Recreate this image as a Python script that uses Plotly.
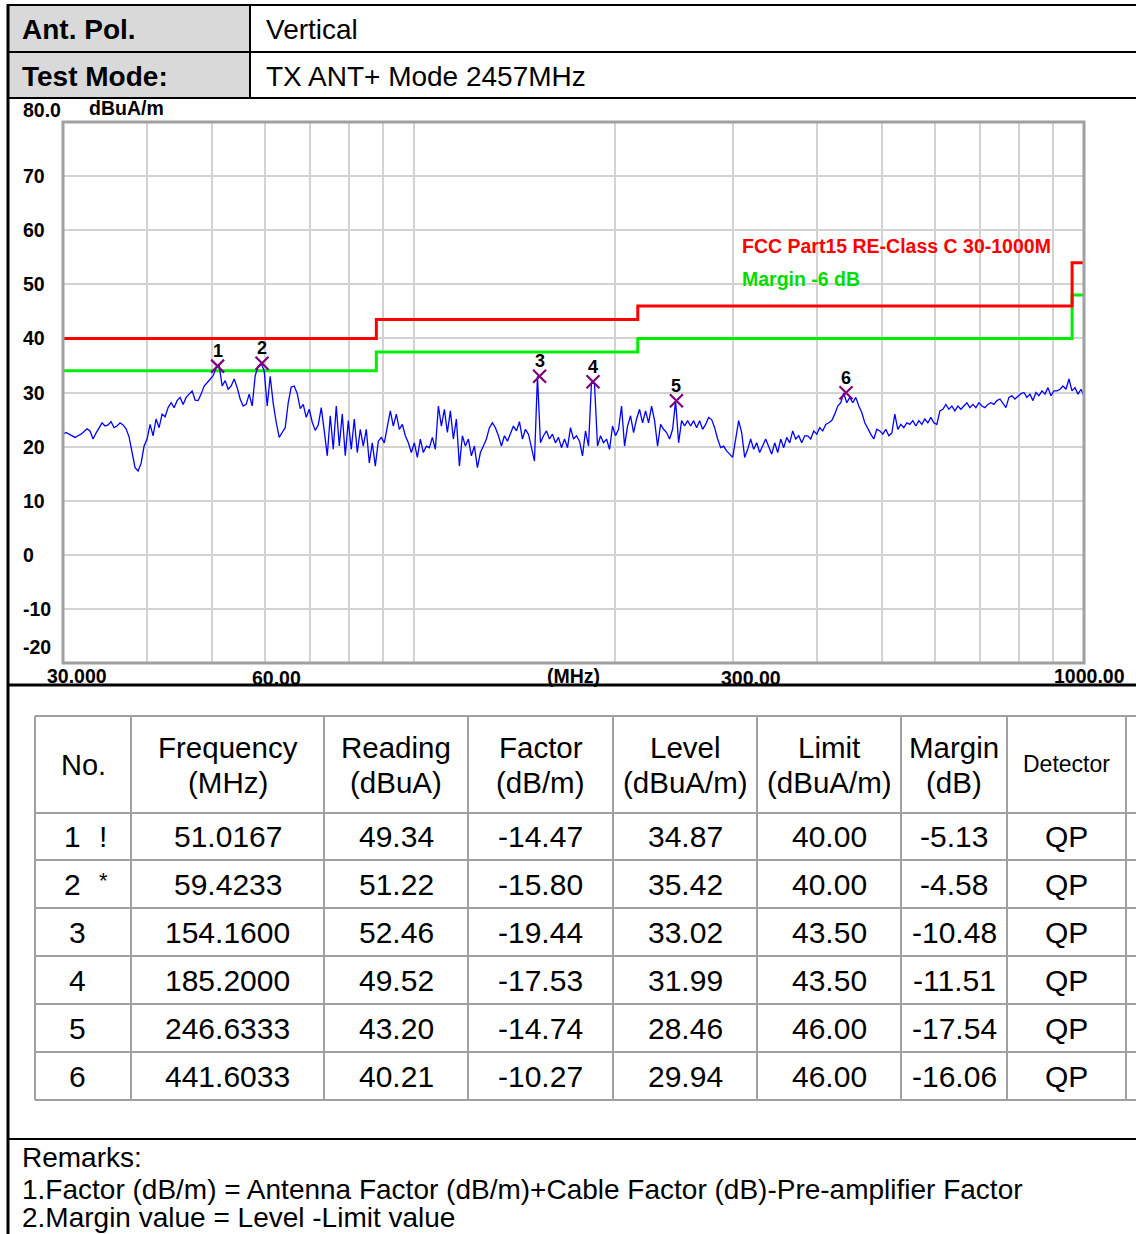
import numpy as np
import plotly.graph_objects as go

W, H = 1136, 1234

# ---------------- data ----------------
SWEEP_START, SWEEP_STOP, SWEEP_POINTS = 30.0, 1000.0, 341
LEVEL = [
    22.3, 22.6, 22.3, 22.0, 21.7, 22.0, 22.3, 22.8, 23.3, 22.9,
    21.4, 22.5, 23.5, 24.4, 23.8, 24.0, 24.6, 23.5, 23.8, 24.4,
    24.0, 23.3, 21.8, 18.9, 16.1, 15.5, 16.9, 20.1, 21.4, 24.1,
    22.0, 25.1, 23.5, 26.0, 25.5, 27.2, 28.1, 27.2, 28.5, 29.1,
    27.8, 29.1, 29.8, 30.3, 28.6, 28.5, 29.7, 31.2, 31.8, 32.5,
    33.1, 34.6, 35.0, 31.2, 32.2, 30.6, 31.2, 32.5, 30.9, 28.8,
    27.5, 27.8, 29.7, 27.5, 33.1, 34.9, 35.4, 34.0, 27.5, 33.0,
    28.0, 24.5, 21.7, 22.6, 23.5, 28.1, 31.0, 31.2, 29.8, 27.0,
    27.8, 25.4, 26.9, 24.5, 23.0, 24.0, 27.2, 22.9, 18.3, 25.7,
    19.5, 27.5, 20.1, 26.0, 18.3, 24.8, 19.5, 25.1, 18.9, 23.2,
    20.1, 23.2, 17.0, 20.7, 16.4, 21.0, 21.7, 20.7, 23.5, 26.6,
    23.8, 26.0, 23.2, 24.1, 22.0, 20.7, 18.9, 20.7, 18.0, 21.4,
    18.9, 20.1, 19.8, 21.7, 19.5, 27.5, 23.8, 26.9, 22.6, 26.6,
    21.4, 25.1, 16.4, 22.0, 20.1, 21.4, 18.3, 20.1, 16.1, 18.9,
    20.1, 21.4, 23.5, 24.4, 23.5, 22.0, 20.1, 22.0, 21.0, 22.6,
    23.8, 22.9, 24.6, 21.4, 23.2, 22.3, 19.5, 17.3, 33.0, 20.7,
    22.0, 22.9, 21.4, 22.3, 20.7, 21.7, 19.8, 21.4, 19.8, 23.5,
    21.4, 22.0, 21.0, 18.3, 22.9, 20.1, 32.0, 31.5, 20.1, 22.0,
    20.7, 21.4, 19.5, 23.8, 22.0, 23.2, 27.5, 20.1, 23.8, 25.7,
    22.6, 25.1, 26.9, 24.4, 26.6, 24.4, 27.5, 24.8, 20.1, 24.1,
    23.2, 22.6, 21.4, 23.2, 28.5, 20.7, 24.8, 23.8, 24.8, 23.8,
    24.8, 23.5, 24.8, 23.2, 24.1, 25.4, 25.0, 23.5, 21.4, 19.8,
    20.1, 19.2, 18.6, 18.0, 21.4, 24.8, 22.6, 18.0, 19.5, 21.4,
    19.5, 20.7, 18.9, 20.1, 21.4, 20.0, 18.6, 20.7, 18.9, 21.4,
    19.8, 21.7, 20.7, 22.9, 21.4, 22.0, 20.7, 22.0, 22.0, 21.4,
    22.9, 22.3, 23.5, 22.9, 24.1, 24.4, 24.8, 26.0, 27.5, 28.1,
    29.9, 28.1, 29.1, 28.1, 29.1, 27.5, 26.3, 24.4, 23.2, 22.3,
    21.4, 23.2, 22.9, 22.3, 23.2, 22.0, 22.5, 26.0, 23.2, 24.1,
    23.5, 24.4, 24.1, 24.8, 23.8, 24.8, 24.1, 25.1, 24.4, 25.4,
    24.4, 24.1, 26.6, 26.9, 27.8, 26.9, 27.5, 26.6, 27.5, 26.9,
    27.5, 28.1, 27.2, 27.8, 27.2, 28.1, 27.5, 27.2, 27.8, 28.1,
    27.8, 28.5, 28.8, 28.1, 27.2, 29.1, 29.4, 28.8, 29.4, 29.8,
    30.0, 29.1, 29.7, 28.5, 30.0, 29.4, 30.3, 29.7, 30.9, 29.4,
    30.3, 30.3, 30.6, 31.2, 30.6, 32.5, 30.3, 30.9, 29.7, 30.6,
    29.4,
]
FREQ = np.geomspace(SWEEP_START, SWEEP_STOP, SWEEP_POINTS)

LIMIT_FREQ = [30, 88, 216, 960, 1000]
LIMIT_LEVEL = [40, 43.5, 46, 54, 54]
MARGIN_LEVEL = [34, 37.5, 40, 48, 48]

NO = ["1", "2", "3", "4", "5", "6"]
FLAG = ["!", "*", "", "", "", ""]
FREQ_TBL = ["51.0167", "59.4233", "154.1600", "185.2000", "246.6333", "441.6033"]
READING = ["49.34", "51.22", "52.46", "49.52", "43.20", "40.21"]
FACTOR = ["-14.47", "-15.80", "-19.44", "-17.53", "-14.74", "-10.27"]
LEVEL_TBL = ["34.87", "35.42", "33.02", "31.99", "28.46", "29.94"]
LIMIT_TBL = ["40.00", "40.00", "43.50", "43.50", "46.00", "46.00"]
MARGIN_TBL = ["-5.13", "-4.58", "-10.48", "-11.51", "-17.54", "-16.06"]
DETECTOR = ["QP", "QP", "QP", "QP", "QP", "QP"]

Y_TICKS = [80, 70, 60, 50, 40, 30, 20, 10, 0, -10, -20]
Y_TICK_TEXT = ["80.0", "70", "60", "50", "40", "30", "20", "10", "0", "-10", "-20"]
X_GRID = [40, 50, 60, 70, 80, 90, 100, 200, 300, 400, 500, 600, 700, 800, 900]
X_TICK_VALS = [30, 60, 300, 1000]
X_TICK_TEXT = ["30.000", "60.00", "300.00", "1000.00"]

# ---------------- helpers ----------------
ARIAL = "Liberation Sans, Arial, sans-serif"


def px(x):
    return x / W


def py(y):
    return 1 - y / H


shapes = []
annotations = []


def hline(y, x0, x1, color="black", width=2):
    shapes.append(dict(type="line", xref="paper", yref="paper", x0=px(x0), x1=px(x1),
                       y0=py(y), y1=py(y), line=dict(color=color, width=width)))


def vline(x, y0, y1, color="black", width=2):
    shapes.append(dict(type="line", xref="paper", yref="paper", x0=px(x), x1=px(x),
                       y0=py(y0), y1=py(y1), line=dict(color=color, width=width)))


def text(t, x, y, size, bold=False, xanchor="center", color="black", family=ARIAL):
    annotations.append(dict(text=f"<b>{t}</b>" if bold else t, x=px(x), y=py(y),
                            xref="paper", yref="paper", xanchor=xanchor, yanchor="middle",
                            showarrow=False, font=dict(size=size, color=color, family=family)))


# ---------------- header table ----------------
shapes.append(dict(type="rect", xref="paper", yref="paper", x0=px(8), x1=px(250),
                   y0=py(98), y1=py(5), fillcolor="#d9d9d9", line=dict(width=0), layer="below"))
hline(5, 8, 1136, width=2)
hline(52, 8, 1136, width=2)
hline(98, 8, 1136, width=2)
vline(250, 5, 98, width=2)
vline(8, 4, 1234, width=3)
hline(685, 8, 1136, width=3)
hline(1139, 8, 1136, width=2)

HS = 28
text("Ant. Pol.", 20, 29, HS, bold=True, xanchor="left")
text("Vertical", 264, 29, HS, xanchor="left")
text("Test Mode:", 20, 76, HS, bold=True, xanchor="left")
text("TX ANT+ Mode 2457MHz", 264, 76, HS, xanchor="left")

# ---------------- data table ----------------
GRAY = "#a0a0a0"
COLS = [35, 131, 324, 468, 613, 757, 901, 1007, 1126]
ROWS = [716, 813, 860, 908, 956, 1004, 1052, 1100]
for r in ROWS:
    hline(r, 35, 1136, color=GRAY, width=2)
for c in COLS:
    vline(c, 716, 1100, color=GRAY, width=2)

centers = [(COLS[i] + COLS[i + 1]) / 2 for i in range(len(COLS) - 1)]
HDR1 = ["Frequency", "Reading", "Factor", "Level", "Limit", "Margin"]
HDR2 = ["(MHz)", "(dBuA)", "(dB/m)", "(dBuA/m)", "(dBuA/m)", "(dB)"]
TS = 30
text("No.", centers[0], 765, 29)
for k in range(6):
    text(HDR1[k], centers[k + 1], 747, 29.5)
    text(HDR2[k], centers[k + 1], 782, 29.5)
text("Detector", centers[7], 764, 23)

row_c = [(ROWS[i] + ROWS[i + 1]) / 2 for i in range(1, len(ROWS) - 1)]
for i in range(6):
    yc = row_c[i]
    if FLAG[i]:
        text(NO[i], 72, yc, TS)
        text(FLAG[i], 103, yc - (4 if FLAG[i] == "*" else 0), TS if FLAG[i] == "!" else 22)
    else:
        text(NO[i], 77, yc, TS)
    for k, col in enumerate([FREQ_TBL, READING, FACTOR, LEVEL_TBL, LIMIT_TBL, MARGIN_TBL, DETECTOR]):
        text(col[i], centers[k + 1], yc, TS)

# ---------------- remarks ----------------
RS = 28
text("Remarks:", 20, 1157, RS, xanchor="left")
text("1.Factor (dB/m) = Antenna Factor (dB/m)+Cable Factor (dB)-Pre-amplifier Factor", 20, 1189, RS, xanchor="left")
text("2.Margin value = Level -Limit value", 20, 1217, RS, xanchor="left")

# ---------------- chart ----------------
CF = 19.5
CHART_FONT = "Liberation Sans, Arial, sans-serif"
fig = go.Figure()
fig.add_trace(go.Scatter(x=LIMIT_FREQ, y=MARGIN_LEVEL, mode="lines", line_shape="hv",
                         line=dict(color="#00ee00", width=3), hoverinfo="skip"))
fig.add_trace(go.Scatter(x=LIMIT_FREQ, y=LIMIT_LEVEL, mode="lines", line_shape="hv",
                         line=dict(color="#ff0000", width=3), hoverinfo="skip"))
fig.add_trace(go.Scatter(x=FREQ, y=LEVEL, mode="lines",
                         line=dict(color="#0000ff", width=1.3)))
MK_F = [float(v) for v in FREQ_TBL]
MK_L = [float(v) for v in LEVEL_TBL]
fig.add_trace(go.Scatter(x=MK_F, y=MK_L, mode="markers",
                         marker=dict(symbol="x-thin", size=13, color="#800080",
                                     line=dict(width=2.2, color="#800080"))))
for f, l, n in zip(MK_F, MK_L, NO):
    annotations.append(dict(text=f"<b>{n}</b>", x=np.log10(f), y=l, xref="x", yref="y",
                            xanchor="center", yanchor="middle", yshift=15, showarrow=False,
                            font=dict(size=18, family=CHART_FONT, color="black")))

# plot border
shapes.append(dict(type="rect", xref="x domain", yref="y domain", x0=0, x1=1, y0=0, y1=1,
                   line=dict(color="#a0a0a0", width=3)))

# y tick labels
for v, t in zip(Y_TICKS, Y_TICK_TEXT):
    shift = 12 if v == 80 else (16 if v == -20 else 0)
    annotations.append(dict(text=f"<b>{t}</b>", x=px(21), y=v, xref="paper", yref="y",
                            xanchor="left", yanchor="middle", yshift=shift, showarrow=False,
                            font=dict(size=CF, family=CHART_FONT, color="black")))
annotations.append(dict(text="<b>dBuA/m</b>", x=px(87), y=80, xref="paper", yref="y",
                        xanchor="left", yanchor="middle", yshift=14, showarrow=False,
                        font=dict(size=CF, family=CHART_FONT, color="black")))
# x tick labels
XSHIFT = {30: 14, 60: 12, 300: 18, 1000: 5}
YPOS = {30: 676, 60: 678, 300: 678, 1000: 676}
for v, t in zip(X_TICK_VALS, X_TICK_TEXT):
    annotations.append(dict(text=f"<b>{t}</b>", x=np.log10(v), y=py(YPOS[v]), xref="x", yref="paper",
                            xanchor="center", yanchor="middle", xshift=XSHIFT[v], showarrow=False,
                            font=dict(size=CF, family=CHART_FONT, color="black")))
annotations.append(dict(text="<b>(MHz)</b>", x=px(573), y=py(676), xref="paper", yref="paper",
                        xanchor="center", yanchor="middle", showarrow=False,
                        font=dict(size=CF, family=CHART_FONT, color="black")))
# legend-like labels
annotations.append(dict(text="<b>FCC Part15 RE-Class C 30-1000M</b>", x=px(740), y=py(246),
                        xref="paper", yref="paper", xanchor="left", yanchor="middle", showarrow=False,
                        font=dict(size=CF, family=CHART_FONT, color="#ff0000")))
annotations.append(dict(text="<b>Margin -6 dB</b>", x=px(740), y=py(279),
                        xref="paper", yref="paper", xanchor="left", yanchor="middle", showarrow=False,
                        font=dict(size=CF, family=CHART_FONT, color="#00dd00")))

fig.update_layout(
    width=W, height=H, margin=dict(l=0, r=0, t=0, b=0),
    paper_bgcolor="white", plot_bgcolor="white", showlegend=False,
    xaxis=dict(type="log", range=[np.log10(30), np.log10(1000)], domain=[px(63), px(1084)],
               tickvals=X_GRID, showticklabels=False, ticks="", showgrid=True,
               gridcolor="#d2d2d2", gridwidth=2, zeroline=False, showline=False),
    yaxis=dict(range=[-20, 80], domain=[py(663), py(122)], tickvals=list(range(-10, 80, 10)),
               showticklabels=False, ticks="", showgrid=True, gridcolor="#d2d2d2", gridwidth=2,
               zeroline=False, showline=False),
    shapes=shapes, annotations=annotations,
)

fig.write_html("out.html")
